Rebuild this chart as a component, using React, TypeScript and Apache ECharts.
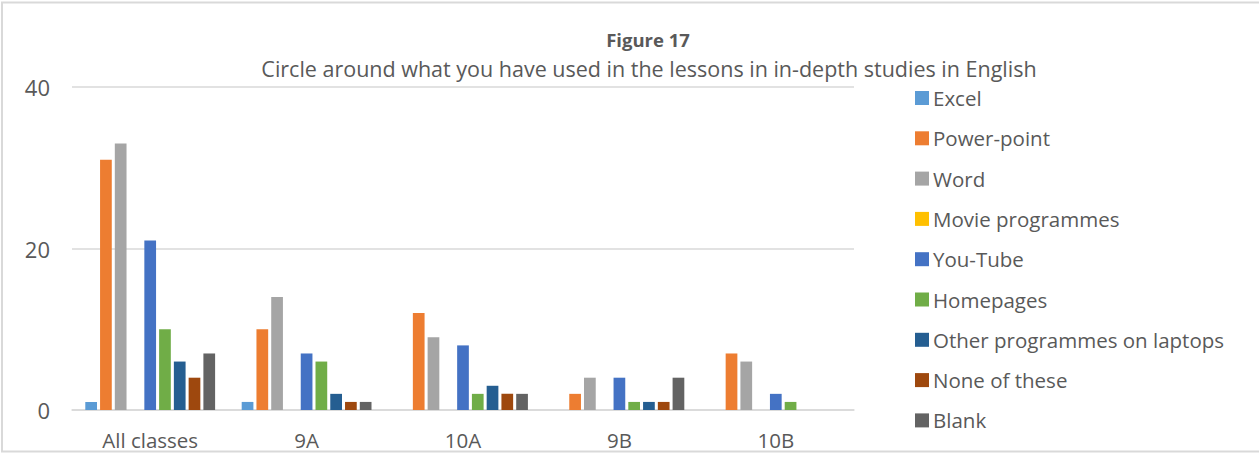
import React, { useEffect, useRef } from "react";
import * as echarts from "echarts";

const categories = ["All classes", "9A", "10A", "9B", "10B"];
const seriesNames = [
  "Excel",
  "Power-point",
  "Word",
  "Movie programmes",
  "You-Tube",
  "Homepages",
  "Other programmes on laptops",
  "None of these",
  "Blank",
];
const excel = [1, 1, 0, 0, 0];
const powerPoint = [31, 10, 12, 2, 7];
const word = [33, 14, 9, 4, 6];
const movie = [0, 0, 0, 0, 0];
const youTube = [21, 7, 8, 4, 2];
const homepages = [10, 6, 2, 1, 1];
const otherProgrammes = [6, 2, 3, 1, 0];
const noneOfThese = [4, 1, 2, 1, 0];
const blank = [7, 1, 2, 4, 0];
const yTicks = [0, 20, 40];

const seriesData = [excel, powerPoint, word, movie, youTube, homepages, otherProgrammes, noneOfThese, blank];
const colors = ["#5B9BD5", "#ED7D31", "#A5A5A5", "#FFC000", "#4472C4", "#70AD47", "#255E91", "#9E480E", "#636363"];

const FONT = "Open Sans";
const TEXT = "#595959";

export default function App() {
  const ref = useRef<HTMLDivElement>(null);
  useEffect(() => {
    if (!ref.current) return;
    const chart = echarts.init(ref.current, undefined, { renderer: "svg" });
    chart.setOption({
      animation: false,
      backgroundColor: "#ffffff",
      color: colors,
      textStyle: { fontFamily: FONT },
      title: [
        {
          text: "Figure 17",
          left: 643,
          top: 25,
          textAlign: "center",
          textStyle: { fontFamily: FONT, fontSize: 18.5, fontWeight: "bold", color: TEXT },
        },
        {
          text: "Circle around what you have used in the lessons in in-depth studies in English",
          left: 644,
          top: 52,
          textAlign: "center",
          textStyle: { fontFamily: FONT, fontSize: 21.5, fontWeight: "normal", color: TEXT },
        },
      ],
      graphic: [
        {
          type: "rect",
          shape: { x: 2, y: 2.5, width: 1300, height: 449 },
          style: { fill: "none", stroke: "#d9d9d9", lineWidth: 2 },
          silent: true,
        },
      ],
      legend: {
        orient: "vertical",
        left: 910,
        top: 82,
        itemWidth: 14,
        itemHeight: 14,
        itemGap: 18.3,
        icon: "rect",
        data: seriesNames,
        textStyle: { fontFamily: FONT, fontSize: 20.5, color: TEXT, lineHeight: 22, padding: [0, 0, 0, -1] },
      },
      grid: { left: 72, right: 405, top: 87, bottom: 43, containLabel: false },
      xAxis: {
        type: "category",
        data: categories,
        axisLine: { lineStyle: { color: "#d9d9d9", width: 1.5 } },
        axisTick: { show: false },
        axisLabel: { fontFamily: FONT, fontSize: 20.5, color: TEXT, margin: 19 },
      },
      yAxis: {
        type: "value",
        min: yTicks[0],
        max: yTicks[yTicks.length - 1],
        interval: 20,
        axisLine: { show: false },
        axisTick: { show: false },
        splitLine: { lineStyle: { color: "#d9d9d9", width: 1.5 } },
        axisLabel: { fontFamily: FONT, fontSize: 22, color: TEXT, margin: 22 },
      },
      series: seriesNames.map((name, i) => ({
        name,
        type: "bar",
        data: seriesData[i],
        barGap: "26%",
        barCategoryGap: "17%",
        itemStyle: { color: colors[i] },
      })),
    });
    return () => chart.dispose();
  }, []);
  return <div ref={ref} style={{ position: "absolute", left: 0, top: 0, width: 1259, height: 453 }} />;
}
